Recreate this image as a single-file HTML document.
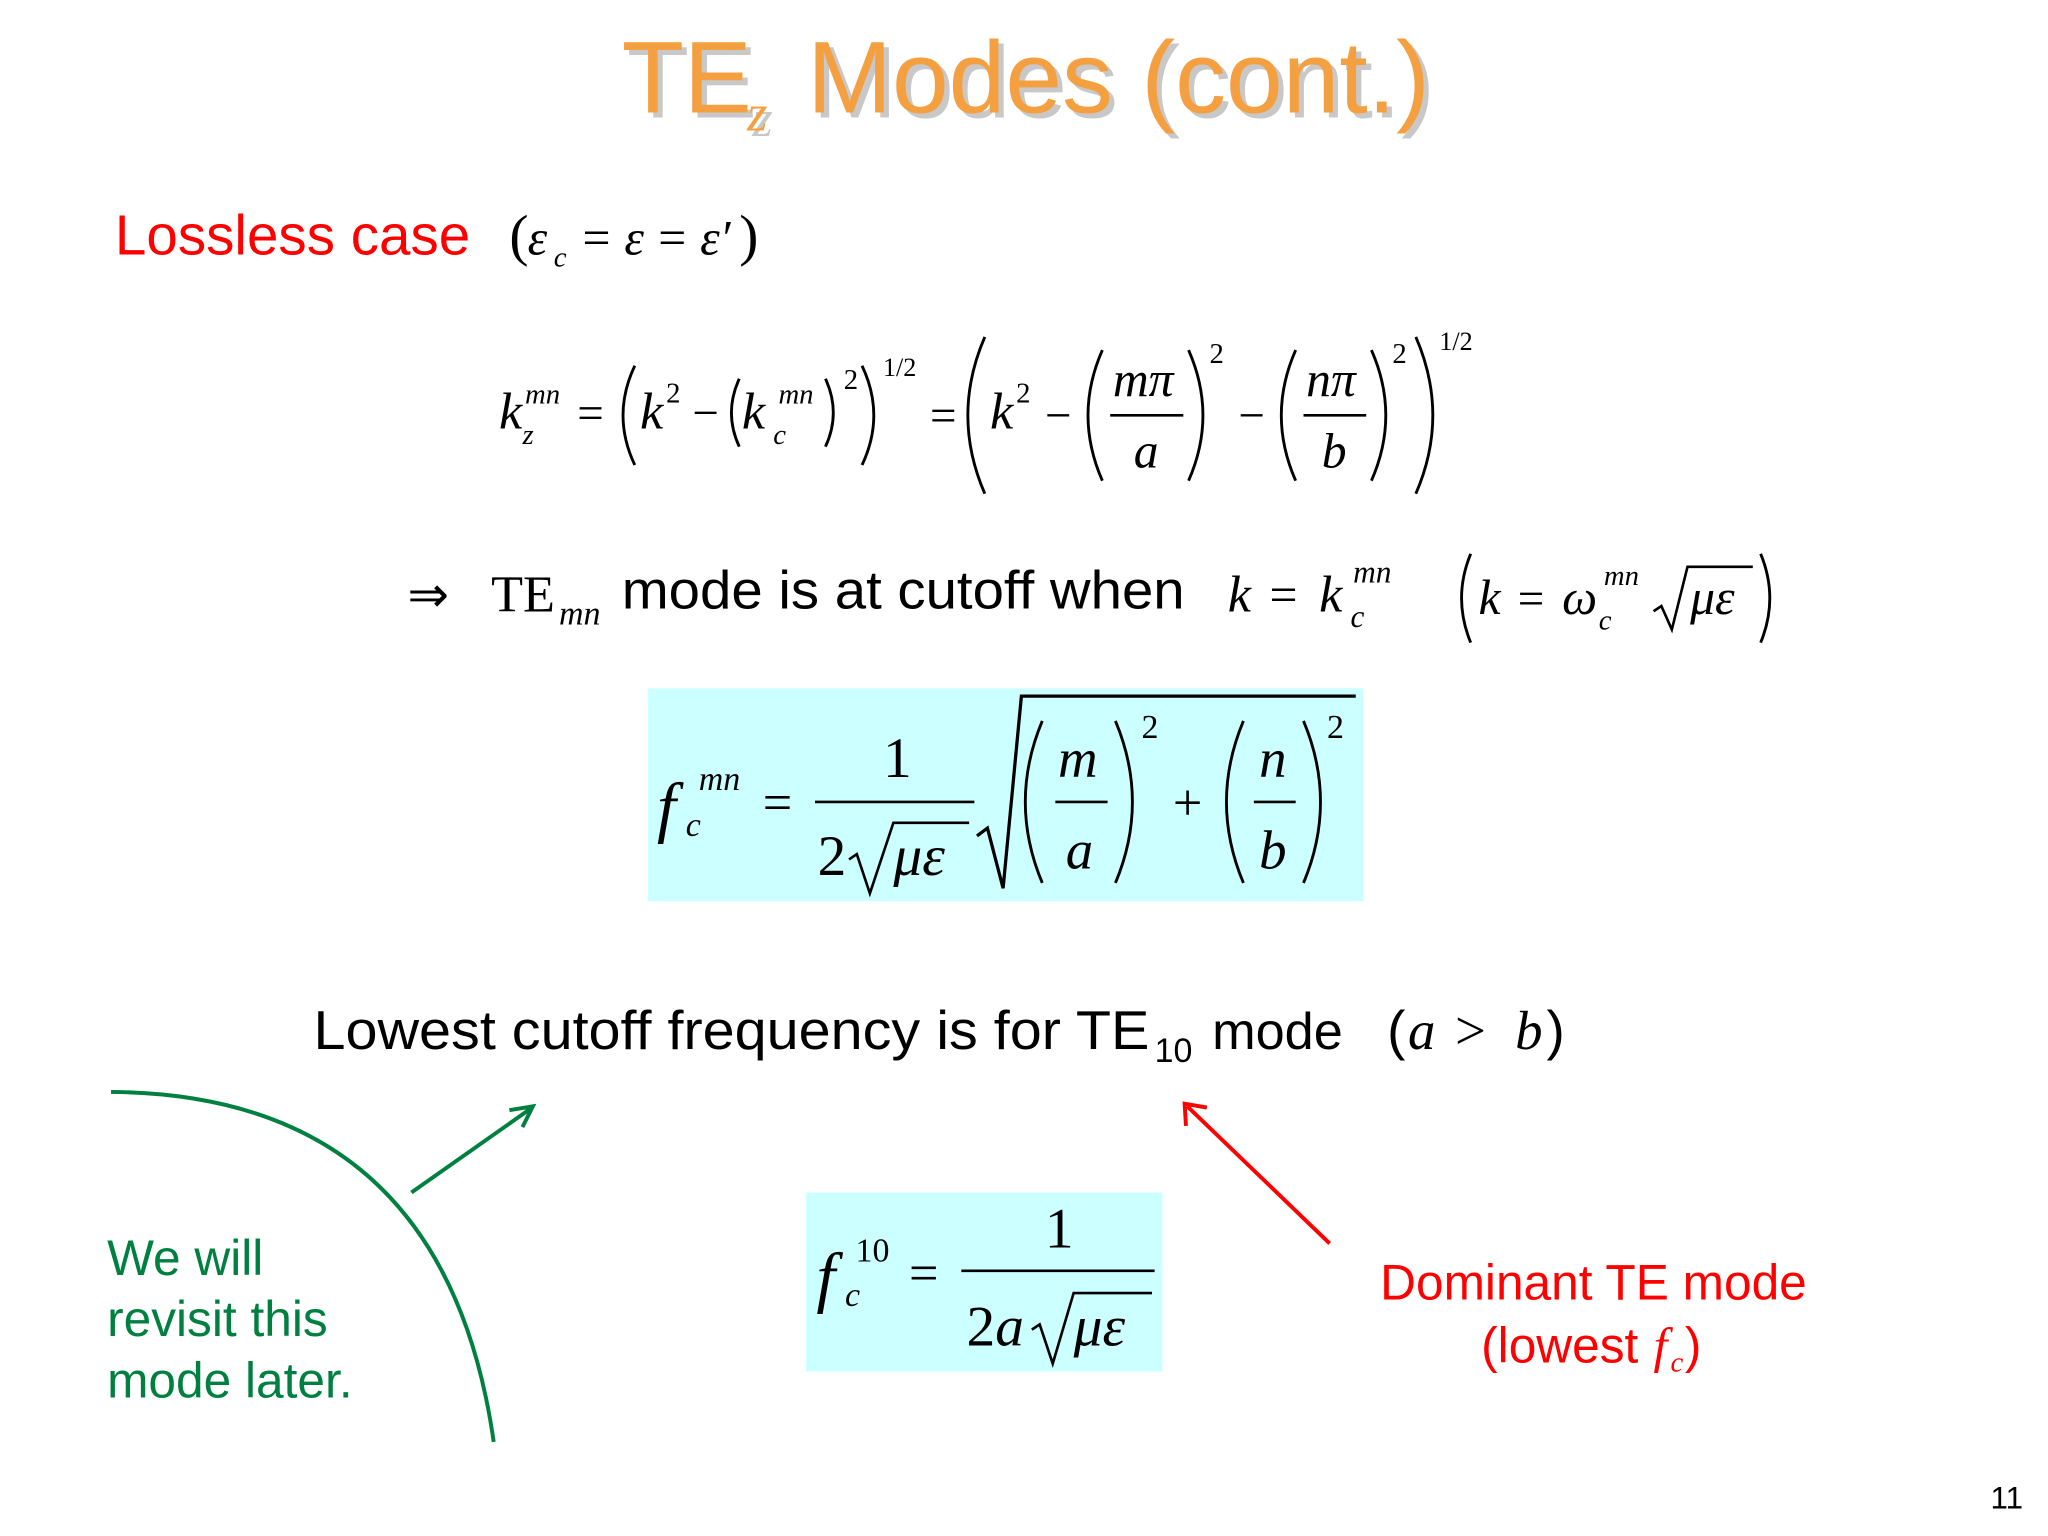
<!DOCTYPE html>
<html><head><meta charset="utf-8"><style>
html,body{margin:0;padding:0;background:#fff;}
svg{display:block;}
.s{font-family:"Liberation Sans",sans-serif;}
.m{font-family:"Liberation Serif",serif;font-style:italic;}
.r{font-family:"Liberation Serif",serif;}
.p{fill:none;stroke:#000;stroke-width:2.2;}
</style></head><body>
<svg width="2048" height="1536" viewBox="0 0 1568 1176" xmlns="http://www.w3.org/2000/svg">
<rect width="1568" height="1176" fill="#fff"/>
<g fill="#c8c8c8" transform="translate(4,4)">
<text x="476" y="86" class="s" font-size="78">TE</text>
<text x="572" y="100" class="m" font-size="40">z</text>
<text x="618" y="86" class="s" font-size="78">Modes (cont.)</text>
</g>
<g fill="#f5a040">
<text x="476" y="86" class="s" font-size="78">TE</text>
<text x="572" y="100" class="m" font-size="40">z</text>
<text x="618" y="86" class="s" font-size="78">Modes (cont.)</text>
</g>
<text x="88" y="195" class="s" font-size="43" fill="#ff0000" textLength="272" lengthAdjust="spacingAndGlyphs">Lossless case</text>
<text x="390" y="195" class="r" font-size="44">(</text>
<text x="404" y="195" class="m" font-size="38">ε</text>
<text x="424" y="204" class="m" font-size="22">c</text>
<text x="446" y="195" class="r" font-size="38">=</text>
<text x="478" y="195" class="m" font-size="38">ε</text>
<text x="504" y="195" class="r" font-size="38">=</text>
<text x="536" y="195" class="m" font-size="38">ε′</text>
<text x="566" y="195" class="r" font-size="44">)</text>
<g class="m">
<text x="382" y="328" font-size="40">k</text>
<text x="402" y="309" font-size="22">mn</text>
<text x="400" y="340" font-size="22">z</text>
<text x="442" y="328" class="r" font-size="36" style="font-style:normal">=</text>
<path class="p" d="M486 280 Q468 318 486 356"/>
<text x="490" y="328" font-size="40">k</text>
<text x="510" y="308" class="r" font-size="22" style="font-style:normal">2</text>
<text x="530" y="328" class="r" font-size="36" style="font-style:normal">−</text>
<path class="p" d="M566 290 Q554 316 566 342"/>
<text x="568" y="328" font-size="40">k</text>
<text x="596" y="309" font-size="22">mn</text>
<text x="592" y="340" font-size="22">c</text>
<path class="p" d="M632 290 Q644 316 632 342"/>
<text x="646" y="298" class="r" font-size="22" style="font-style:normal">2</text>
<path class="p" d="M660 280 Q678 318 660 356"/>
<text x="676" y="288" class="r" font-size="20" style="font-style:normal">1/2</text>
<text x="712" y="330" class="r" font-size="36" style="font-style:normal">=</text>
<path class="p" d="M754 258 Q728 318 754 378"/>
<text x="758" y="328" font-size="40">k</text>
<text x="778" y="308" class="r" font-size="22" style="font-style:normal">2</text>
<text x="800" y="330" class="r" font-size="36" style="font-style:normal">−</text>
<path class="p" d="M844 268 Q822 318 844 368"/>
<text x="852" y="303" font-size="38">mπ</text>
<line x1="850" y1="318" x2="906" y2="318" stroke="#000" stroke-width="2"/>
<text x="868" y="358" font-size="38">a</text>
<path class="p" d="M910 268 Q932 318 910 368"/>
<text x="926" y="278" class="r" font-size="22" style="font-style:normal">2</text>
<text x="948" y="330" class="r" font-size="36" style="font-style:normal">−</text>
<path class="p" d="M992 268 Q970 318 992 368"/>
<text x="1000" y="303" font-size="38">nπ</text>
<line x1="998" y1="318" x2="1046" y2="318" stroke="#000" stroke-width="2"/>
<text x="1012" y="358" font-size="38">b</text>
<path class="p" d="M1050 268 Q1072 318 1050 368"/>
<text x="1066" y="278" class="r" font-size="22" style="font-style:normal">2</text>
<path class="p" d="M1084 258 Q1110 318 1084 378"/>
<text x="1102" y="268" class="r" font-size="20" style="font-style:normal">1/2</text>
</g>
<text x="312" y="468" class="r" font-size="38">⇒</text>
<text x="376" y="468" class="r" font-size="40">TE</text>
<text x="428" y="478" class="m" font-size="26">mn</text>
<text x="476" y="466" class="s" font-size="41" textLength="431" lengthAdjust="spacingAndGlyphs">mode is at cutoff when</text>
<text x="940" y="468" class="m" font-size="40">k</text>
<text x="972" y="468" class="r" font-size="38">=</text>
<text x="1010" y="468" class="m" font-size="40">k</text>
<text x="1036" y="446" class="m" font-size="24">mn</text>
<text x="1034" y="480" class="m" font-size="24">c</text>
<path class="p" d="M1126 424 Q1112 458 1126 492"/>
<text x="1132" y="470" class="m" font-size="38">k</text>
<text x="1162" y="470" class="r" font-size="36">=</text>
<text x="1196" y="470" class="m" font-size="38">ω</text>
<text x="1228" y="448" class="m" font-size="22">mn</text>
<text x="1224" y="482" class="m" font-size="22">c</text>
<path d="M1266 468 L1272 464 L1280 482 L1292 434 L1342 434" fill="none" stroke="#000" stroke-width="2"/>
<text x="1294" y="470" class="m" font-size="38">με</text>
<path class="p" d="M1348 424 Q1362 458 1348 492"/>
<rect x="496" y="527" width="548" height="163" fill="#ccffff"/>
<text x="503" y="635" class="m" font-size="52">f</text>
<text x="535" y="605" class="m" font-size="26">mn</text>
<text x="525" y="640" class="m" font-size="26">c</text>
<text x="584" y="628" class="r" font-size="40">=</text>
<text x="676" y="595" class="r" font-size="44">1</text>
<line x1="624" y1="614" x2="746" y2="614" stroke="#000" stroke-width="2"/>
<text x="626" y="670" class="r" font-size="44">2</text>
<path d="M650 658 L656 654 L666 684 L684 630 L742 630" fill="none" stroke="#000" stroke-width="2"/>
<text x="684" y="670" class="m" font-size="44">με</text>
<path d="M748 640 L756 634 L768 680 L782 533 L1038 533" fill="none" stroke="#000" stroke-width="2.5"/>
<path class="p" d="M798 552 Q772 614 798 676"/>
<text x="810" y="595" class="m" font-size="42">m</text>
<line x1="808" y1="614" x2="848" y2="614" stroke="#000" stroke-width="2"/>
<text x="816" y="665" class="m" font-size="42">a</text>
<path class="p" d="M854 552 Q880 614 854 676"/>
<text x="874" y="565" class="r" font-size="26">2</text>
<text x="898" y="628" class="r" font-size="40">+</text>
<path class="p" d="M952 552 Q926 614 952 676"/>
<text x="964" y="595" class="m" font-size="42">n</text>
<line x1="960" y1="614" x2="992" y2="614" stroke="#000" stroke-width="2"/>
<text x="964" y="665" class="m" font-size="42">b</text>
<path class="p" d="M998 552 Q1024 614 998 676"/>
<text x="1016" y="565" class="r" font-size="26">2</text>
<text x="240" y="803" class="s" font-size="42" textLength="640" lengthAdjust="spacingAndGlyphs">Lowest cutoff frequency is  for TE</text>
<text x="884" y="813" class="s" font-size="26">10</text>
<text x="928" y="803" class="s" font-size="40">mode</text>
<text x="1062" y="803" class="s" font-size="42">(</text>
<text x="1078" y="803" class="m" font-size="42">a</text>
<text x="1114" y="803" class="r" font-size="42">&gt;</text>
<text x="1160" y="803" class="m" font-size="42">b</text>
<text x="1184" y="803" class="s" font-size="42">)</text>
<path d="M85 836 Q 340 838 378 1104" fill="none" stroke="#008040" stroke-width="3"/>
<line x1="315" y1="913" x2="406" y2="849" stroke="#008040" stroke-width="3"/>
<path d="M390 850 L408 847 L400 863" fill="none" stroke="#008040" stroke-width="3"/>
<text class="s" font-size="38" fill="#008040"><tspan x="82" y="976">We will</tspan><tspan x="82" y="1023">revisit this</tspan><tspan x="82" y="1070">mode later.</tspan></text>
<line x1="1018" y1="952" x2="909" y2="847" stroke="#ff0000" stroke-width="3"/>
<path d="M908 862 L907 845 L924 848" fill="none" stroke="#ff0000" stroke-width="3"/>
<text x="1220" y="995" class="s" font-size="38" fill="#ff0000" text-anchor="middle">Dominant TE mode</text>
<text x="1134" y="1043" class="s" font-size="38" fill="#ff0000">(lowest</text>
<text x="1266" y="1043" class="m" font-size="38" fill="#ff0000">f</text>
<text x="1279" y="1050" class="m" font-size="22" fill="#ff0000">c</text>
<text x="1290" y="1043" class="s" font-size="38" fill="#ff0000">)</text>
<rect x="617" y="913" width="273" height="137" fill="#ccffff"/>
<text x="625" y="995" class="m" font-size="52">f</text>
<text x="655" y="966" class="r" font-size="26">10</text>
<text x="647" y="1000" class="m" font-size="26">c</text>
<text x="696" y="988" class="r" font-size="40">=</text>
<text x="800" y="955" class="r" font-size="44">1</text>
<line x1="736" y1="973" x2="884" y2="973" stroke="#000" stroke-width="2"/>
<text x="740" y="1030" class="r" font-size="44">2</text>
<text x="762" y="1030" class="m" font-size="44">a</text>
<path d="M790 1018 L796 1014 L806 1044 L822 990 L882 990" fill="none" stroke="#000" stroke-width="2"/>
<text x="822" y="1030" class="m" font-size="44">με</text>
<text x="1524" y="1155" class="s" font-size="24">11</text>
</svg>
</body></html>
